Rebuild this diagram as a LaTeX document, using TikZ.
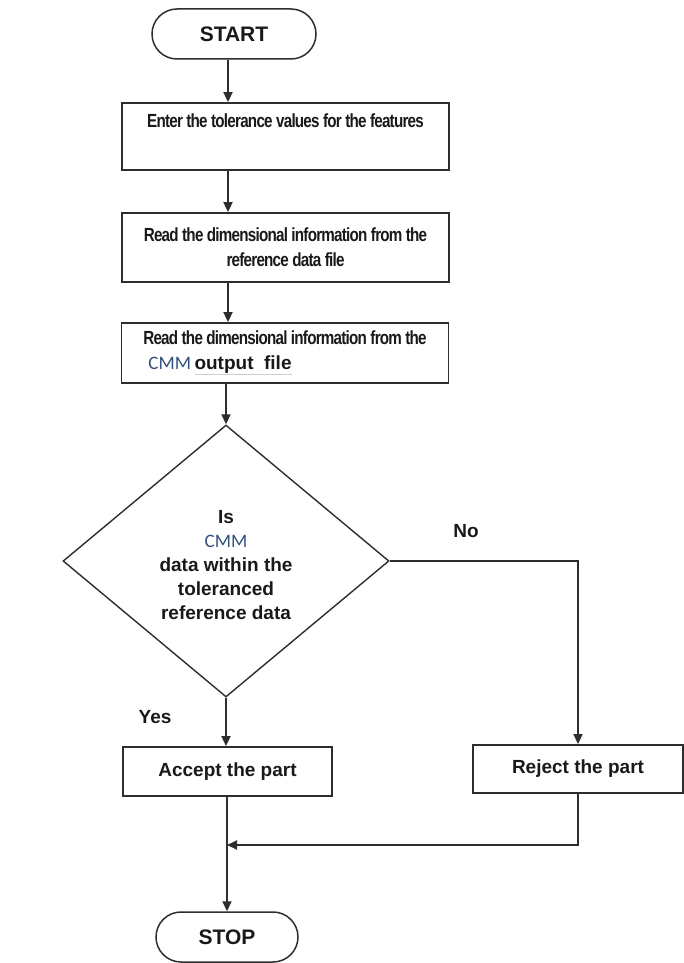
\documentclass[tikz,border=0pt]{standalone}
\usepackage{fontspec}
\setmainfont{Liberation Sans}
\newfontfamily\narrowfont{Liberation Sans}[FakeStretch=0.8,LetterSpace=-4]
\newfontfamily\cmmfont{Carlito}
\usetikzlibrary{shapes.geometric,arrows.meta}
\definecolor{linegray}{RGB}{45,45,45}
\definecolor{textblack}{RGB}{25,25,25}
\definecolor{cmmblue}{RGB}{50,80,125}
\definecolor{ulgray}{RGB}{205,205,205}
% light grey rule under a piece of text
\newcommand\grayrule[1]{\setbox0\hbox{#1}\rlap{\color{ulgray}\rule[-5pt]{\wd0}{1pt}}\box0}
\newcommand\cmm{{\cmmfont\mdseries\color{cmmblue}CMM}}

\begin{document}
\begin{tikzpicture}[x=1pt,y=-1pt,
  every node/.style={text=textblack},
  line/.style={draw=linegray, line width=1.8pt},
  arrow/.style={line, -{Triangle[length=10pt,width=9pt]}},
  term/.style={draw=linegray, line width=1.5pt, rectangle, rounded corners=25pt,
    minimum height=50pt, inner sep=0pt, font=\fontsize{21}{24}\selectfont\bfseries},
  procbox/.style={draw=linegray, line width=1.8pt, rectangle, inner sep=0pt,
    minimum width=327pt, align=center, font=\narrowfont\fontsize{19}{25}\selectfont\bfseries},
  smallbox/.style={draw=linegray, line width=1.8pt, rectangle, inner sep=0pt,
    font=\fontsize{19}{23}\selectfont\bfseries},
  decision/.style={diamond, draw=linegray, line width=1.4pt, inner sep=0pt,
    minimum width=326pt, minimum height=272pt, align=center,
    font=\fontsize{19}{24}\selectfont\bfseries},
  lab/.style={inner sep=0pt, font=\fontsize{19}{23}\selectfont\bfseries}]

\useasboundingbox (0,0) rectangle (684,963);

% flow nodes
\node[term, minimum width=164pt] (start) at (234,34) {START};
\node[procbox, minimum height=67pt] (enter) at (285.5,136.5)
  {Enter the tolerance values for the features\\\strut};
\node[procbox, minimum height=69pt] (readref) at (285.5,247.5)
  {Read the dimensional information from the\\reference data file};
\node[procbox, minimum height=60pt] (readcmm) at (285,353)
  {Read the dimensional information from the\\\cmm\ {\rmfamily\grayrule{output\ \ file}}\hspace*{130pt}};
\node[decision] (check) at (226,561)
  {\rule{0pt}{22pt}Is\\\cmm\\data within the\\toleranced\\reference data};
\node[smallbox, minimum width=209pt, minimum height=49pt] (accept) at (227.5,771.5) {Accept the part};
\node[smallbox, minimum width=210pt, minimum height=48pt] (reject) at (578,769) {Reject the part};
\node[term, minimum width=142pt] (stop) at (227,937) {STOP};

% branch labels
\node[lab] (no) at (466,531) {No};
\node[lab] (yes) at (155,717) {Yes};

% helper points
\coordinate (spine) at (228,0);
\coordinate (merge) at (227,845);
\coordinate (nocorner) at (check.east -| reject.north);
\coordinate (rejcorner) at (reject.south |- merge);

% connectors
\draw[arrow] (start.south -| spine) -- (enter.north -| spine);
\draw[arrow] (enter.south -| spine) -- (readref.north -| spine);
\draw[arrow] (readref.south -| spine) -- (readcmm.north -| spine);
\draw[arrow] (readcmm.south -| check.north) -- (check.north);
\draw[arrow] (check.south) -- (check.south |- accept.north);
\draw[arrow, line width=1.5pt] (check.east) -- (nocorner) -- (reject.north);
\draw[arrow] (reject.south) -- (rejcorner) -- (merge);
\draw[arrow] (accept.south -| merge) -- (stop.north -| merge);
\end{tikzpicture}
\end{document}
